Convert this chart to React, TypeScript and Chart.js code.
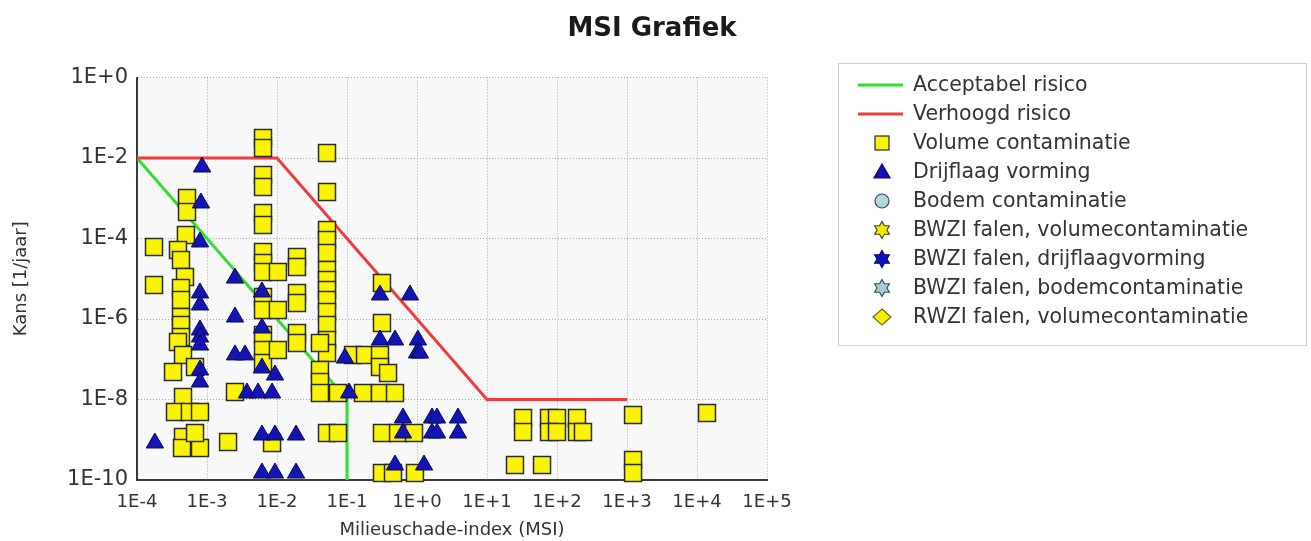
import React, { useEffect, useRef } from 'react';
import { Chart, registerables } from 'chart.js';

Chart.register(...registerables);

const TITLE = 'MSI Grafiek';
const X_TITLE = 'Milieuschade-index (MSI)';
const Y_TITLE = 'Kans [1/jaar]';

const X_TICKS = [1e-4, 1e-3, 1e-2, 1e-1, 1e0, 1e1, 1e2, 1e3, 1e4, 1e5];
const Y_TICKS = [1e-10, 1e-8, 1e-6, 1e-4, 1e-2, 1e0];

// Acceptabel risico (green)
const acceptabelMsi = [1e-4, 1e-1, 1e-1];
const acceptabelKans = [1e-2, 1e-8, 1e-10];

// Verhoogd risico (red)
const verhoogdMsi = [1e-4, 1e-2, 1e1, 1e3];
const verhoogdKans = [1e-2, 1e-2, 1e-8, 1e-8];

// Volume contaminatie (yellow squares)
const volumeMsi = [
  1.75e-4, 1.75e-4, 5.18e-4, 5.18e-4, 5.0e-4, 3.85e-4, 4.25e-4, 4.85e-4, 4.25e-4, 4.25e-4,
  4.25e-4, 4.25e-4, 4.25e-4, 3.85e-4, 4.54e-4, 3.27e-4, 6.74e-4, 4.54e-4, 3.49e-4, 5.7e-4,
  7.94e-4, 4.54e-4, 4.4e-4, 7.94e-4, 6.74e-4, 2.0e-3, 2.51e-3,
  6.31e-3, 6.31e-3, 6.31e-3, 6.31e-3, 6.31e-3, 6.31e-3, 6.31e-3, 6.31e-3, 6.31e-3, 6.31e-3,
  6.31e-3, 6.31e-3, 6.31e-3, 6.31e-3, 1.03e-2, 1.03e-2, 1.03e-2, 8.5e-3,
  1.93e-2, 1.93e-2, 1.93e-2, 1.93e-2, 1.93e-2, 1.93e-2,
  5.18e-2, 5.18e-2, 5.18e-2, 5.18e-2, 5.18e-2, 5.18e-2, 5.18e-2, 5.18e-2, 5.18e-2, 5.18e-2,
  5.18e-2, 5.18e-2, 5.18e-2, 4.11e-2, 4.11e-2, 4.11e-2, 4.11e-2, 7.43e-2, 5.18e-2, 7.43e-2,
  0.122, 0.181, 0.296, 0.296, 0.386, 0.169, 0.296, 0.485, 0.316, 0.316,
  0.316, 0.536, 0.906, 0.316, 0.454, 0.935,
  32.7, 32.7, 76.9, 100, 76.9, 100, 193, 193, 235, 25.1, 61.1,
  1.22e3, 1.22e3, 1.22e3, 1.39e4,
];
const volumeKans = [
  6.15e-5, 7.0e-6, 1.01e-3, 4.55e-4, 1.22e-4, 5.18e-5, 2.92e-5, 1.1e-5, 5.89e-6, 2.97e-6,
  1.12e-6, 7.1e-7, 3.57e-7, 2.68e-7, 1.28e-7, 4.82e-8, 6.42e-8, 1.15e-8, 4.89e-9, 4.89e-9,
  4.89e-9, 1.17e-9, 6.24e-10, 6.24e-10, 1.47e-9, 8.8e-10, 1.53e-8,
  3.14e-2, 1.77e-2, 3.78e-3, 1.9e-3, 4.3e-4, 2.17e-4, 4.62e-5, 2.46e-5, 1.47e-5, 3.52e-6,
  1.67e-6, 4.0e-7, 1.7e-7, 8.07e-8, 1.47e-5, 1.67e-6, 1.7e-7, 8.3e-10,
  3.47e-5, 1.96e-5, 4.43e-6, 2.5e-6, 4.49e-7, 2.53e-7,
  1.33e-2, 1.43e-3, 1.63e-4, 9.18e-5, 4.36e-5, 1.65e-5, 9.31e-6, 5.25e-6, 2.97e-6, 1.49e-6,
  7.1e-7, 3.01e-7, 1.43e-7, 2.53e-7, 5.41e-8, 2.72e-8, 1.45e-8, 1.45e-8, 1.47e-9, 1.47e-9,
  1.28e-7, 1.28e-7, 1.28e-7, 6.42e-8, 4.55e-8, 1.45e-8, 1.45e-8, 1.45e-8, 7.84e-6, 7.96e-7,
  1.47e-9, 1.47e-9, 1.47e-9, 1.49e-10, 1.49e-10, 1.49e-10,
  3.47e-9, 1.56e-9, 3.47e-9, 3.47e-9, 1.56e-9, 1.56e-9, 3.47e-9, 1.56e-9, 1.56e-9, 2.36e-10, 2.36e-10,
  4.12e-9, 3.14e-10, 1.49e-10, 4.62e-9,
];

// Drijflaag vorming (blue triangles)
const drijflaagMsi = [
  8.5e-4, 8.2e-4, 7.94e-4, 7.94e-4, 7.94e-4, 7.94e-4, 2.51e-3, 2.51e-3, 7.94e-4, 7.94e-4,
  7.94e-4, 7.94e-4, 2.51e-3, 3.49e-3, 1.8e-4, 6.1e-3, 6.1e-3, 6.1e-3, 9.35e-3, 3.72e-3,
  5.36e-3, 8.5e-3, 6.1e-3, 9.35e-3, 1.87e-2, 6.1e-3, 9.35e-3, 1.87e-2, 0.107, 9.35e-2,
  0.296, 0.794, 0.296, 0.485, 1.03, 1.0, 1.1, 0.631, 1.64, 1.93,
  3.85, 0.631, 1.64, 1.93, 3.85, 0.485, 1.26,
];
const drijflaagKans = [
  5.97e-3, 7.62e-4, 8.19e-5, 4.43e-6, 2.23e-6, 5.33e-7, 1.04e-5, 1.12e-6, 3.57e-7, 2.26e-7,
  5.41e-8, 2.72e-8, 1.28e-7, 1.28e-7, 8.3e-10, 4.69e-6, 5.97e-7, 6.06e-8, 4.06e-8, 1.45e-8,
  1.45e-8, 1.45e-8, 1.31e-9, 1.31e-9, 1.31e-9, 1.49e-10, 1.49e-10, 1.49e-10, 1.45e-8, 1.07e-7,
  3.95e-6, 3.95e-6, 3.01e-7, 3.01e-7, 3.01e-7, 1.43e-7, 1.43e-7, 3.47e-9, 3.47e-9, 3.47e-9,
  3.47e-9, 1.47e-9, 1.47e-9, 1.47e-9, 1.47e-9, 2.36e-10, 2.36e-10,
];

const FONT = '"DejaVu Sans", "Liberation Sans", sans-serif';

const pts = (xs: number[], ys: number[]) => xs.map((x, i) => ({ x, y: ys[i] }));

const fmtExp = (v: number) => {
  const e = Math.round(Math.log10(v));
  return '1E' + (e >= 0 ? '+' : '-') + Math.abs(e);
};

function drawHexagram(ctx: CanvasRenderingContext2D, cx: number, cy: number, R: number) {
  const r = R / Math.sqrt(3);
  ctx.beginPath();
  for (let i = 0; i < 12; i++) {
    const a = -Math.PI / 2 + (i * Math.PI) / 6;
    const rad = i % 2 === 0 ? R : r;
    const px = cx + Math.cos(a) * rad;
    const py = cy + Math.sin(a) * rad;
    if (i === 0) ctx.moveTo(px, py);
    else ctx.lineTo(px, py);
  }
  ctx.closePath();
}

const bgPlugin = {
  id: 'plotBg',
  beforeDraw(chart: any) {
    const { ctx, chartArea } = chart;
    ctx.save();
    ctx.fillStyle = '#f8f8f8';
    ctx.fillRect(chartArea.left, chartArea.top, chartArea.right - chartArea.left, chartArea.bottom - chartArea.top);
    ctx.restore();
  },
};

const legendPlugin = {
  id: 'boxLegend',
  afterDraw(chart: any) {
    const ctx: CanvasRenderingContext2D = chart.ctx;
    ctx.save();
    ctx.font = `bold 26px ${FONT}`;
    ctx.fillStyle = '#1a1a1a';
    ctx.textAlign = 'center';
    ctx.textBaseline = 'middle';
    ctx.fillText(TITLE, 652, 29);

    ctx.strokeStyle = '#cfcfcf';
    ctx.lineWidth = 1;
    ctx.strokeRect(838.5, 63.5, 468, 282);

    ctx.font = `20.5px ${FONT}`;
    ctx.textAlign = 'left';
    const mx = 882;
    chart.data.datasets.forEach((ds: any, i: number) => {
      const y = 85 + i * 29;
      ctx.fillStyle = ds.backgroundColor;
      ctx.strokeStyle = ds.borderColor;
      ctx.lineWidth = 1.2;
      const m = ds.legendMarker;
      if (m === 'line') {
        ctx.lineWidth = 3;
        ctx.beginPath();
        ctx.moveTo(858, y);
        ctx.lineTo(903, y);
        ctx.stroke();
      } else if (m === 'rect') {
        ctx.fillRect(mx - 7, y - 7, 14, 14);
        ctx.strokeRect(mx - 7, y - 7, 14, 14);
      } else if (m === 'triangle') {
        ctx.beginPath();
        ctx.moveTo(mx, y - 8);
        ctx.lineTo(mx + 8, y + 6);
        ctx.lineTo(mx - 8, y + 6);
        ctx.closePath();
        ctx.fill();
        ctx.stroke();
      } else if (m === 'circle') {
        ctx.beginPath();
        ctx.arc(mx, y, 7, 0, Math.PI * 2);
        ctx.fill();
        ctx.stroke();
      } else if (m === 'hexagram') {
        drawHexagram(ctx, mx, y, 8.5);
        ctx.fill();
        ctx.stroke();
      } else if (m === 'diamond') {
        ctx.beginPath();
        ctx.moveTo(mx, y - 8);
        ctx.lineTo(mx + 9, y);
        ctx.lineTo(mx, y + 8);
        ctx.lineTo(mx - 9, y);
        ctx.closePath();
        ctx.fill();
        ctx.stroke();
      }
      ctx.fillStyle = '#333333';
      ctx.fillText(ds.label, 913, y + 1);
    });
    ctx.restore();
  },
};

export default function App() {
  const canvasRef = useRef<HTMLCanvasElement | null>(null);

  useEffect(() => {
    if (!canvasRef.current) return;
    const chart = new Chart(canvasRef.current, {
      type: 'scatter',
      data: {
        datasets: [
          {
            label: 'Acceptabel risico',
            data: pts(acceptabelMsi, acceptabelKans),
            showLine: true,
            borderColor: '#2fe02f',
            backgroundColor: '#2fe02f',
            borderWidth: 3,
            pointRadius: 0,
            order: 4,
            legendMarker: 'line',
          } as any,
          {
            label: 'Verhoogd risico',
            data: pts(verhoogdMsi, verhoogdKans),
            showLine: true,
            borderColor: '#f23c3c',
            backgroundColor: '#f23c3c',
            borderWidth: 3,
            pointRadius: 0,
            order: 3,
            legendMarker: 'line',
          } as any,
          {
            label: 'Volume contaminatie',
            data: pts(volumeMsi, volumeKans),
            pointStyle: 'rect',
            pointRadius: 12,
            backgroundColor: '#fbf400',
            borderColor: '#2a2a2a',
            borderWidth: 1.5,
            order: 2,
            clip: false,
            legendMarker: 'rect',
          } as any,
          {
            label: 'Drijflaag vorming',
            data: pts(drijflaagMsi, drijflaagKans),
            pointStyle: 'triangle',
            pointRadius: 10,
            backgroundColor: '#1414b4',
            borderColor: '#0a0a55',
            borderWidth: 1,
            order: 1,
            clip: false,
            legendMarker: 'triangle',
          } as any,
          {
            label: 'Bodem contaminatie',
            data: [],
            pointStyle: 'circle',
            backgroundColor: '#b4d8dc',
            borderColor: '#3a4a50',
            legendMarker: 'circle',
            order: 0,
          } as any,
          {
            label: 'BWZI falen, volumecontaminatie',
            data: [],
            pointStyle: 'star',
            backgroundColor: '#f0ea00',
            borderColor: '#4a4a20',
            legendMarker: 'hexagram',
            order: 0,
          } as any,
          {
            label: 'BWZI falen, drijflaagvorming',
            data: [],
            pointStyle: 'star',
            backgroundColor: '#1010c0',
            borderColor: '#0a0a60',
            legendMarker: 'hexagram',
            order: 0,
          } as any,
          {
            label: 'BWZI falen, bodemcontaminatie',
            data: [],
            pointStyle: 'star',
            backgroundColor: '#a8ccd4',
            borderColor: '#3a5058',
            legendMarker: 'hexagram',
            order: 0,
          } as any,
          {
            label: 'RWZI falen, volumecontaminatie',
            data: [],
            pointStyle: 'rectRot',
            backgroundColor: '#f6ee00',
            borderColor: '#6a6a20',
            legendMarker: 'diamond',
            order: 0,
          } as any,
        ],
      },
      options: {
        responsive: false,
        animation: false,
        events: [],
        layout: { padding: { top: 77.5, right: 544, left: 0, bottom: 0 } },
        plugins: {
          legend: { display: false },
          title: { display: false },
          tooltip: { enabled: false },
        },
        scales: {
          x: {
            type: 'logarithmic',
            min: 1e-4,
            max: 1e5,
            afterBuildTicks: (scale: any) => {
              scale.ticks = X_TICKS.map((v) => ({ value: v }));
            },
            afterFit: (scale: any) => {
              scale.height = 61;
            },
            ticks: {
              callback: (v: any) => fmtExp(Number(v)),
              font: { family: FONT, size: 18 },
              color: '#333333',
              padding: 12,
              maxRotation: 0,
              autoSkip: false,
            },
            grid: { color: '#a8a8a8', lineWidth: 1, drawTicks: false },
            border: { display: true, color: '#3a3a3a', width: 2, dash: [1, 2] },
            title: {
              display: true,
              text: X_TITLE,
              font: { family: FONT, size: 18 },
              color: '#333333',
              padding: { top: 0, bottom: 0 },
            },
          },
          y: {
            type: 'logarithmic',
            min: 1e-10,
            max: 1,
            afterBuildTicks: (scale: any) => {
              scale.ticks = Y_TICKS.map((v) => ({ value: v }));
            },
            afterFit: (scale: any) => {
              scale.width = 137;
            },
            ticks: {
              callback: (v: any) => fmtExp(Number(v)),
              font: { family: FONT, size: 21 },
              color: '#333333',
              padding: 9,
              autoSkip: false,
            },
            grid: { color: '#a8a8a8', lineWidth: 1, drawTicks: false },
            border: { display: true, color: '#3a3a3a', width: 2, dash: [1, 2] },
            title: {
              display: true,
              text: Y_TITLE,
              font: { family: FONT, size: 18 },
              color: '#333333',
              padding: { top: 11, bottom: 0 },
            },
          },
        },
      },
      plugins: [bgPlugin, legendPlugin],
    } as any);
    return () => chart.destroy();
  }, []);

  return (
    <div style={{ position: 'absolute', left: 0, top: 0, width: 1311, height: 541, background: '#ffffff' }}>
      <canvas ref={canvasRef} width={1311} height={541} style={{ display: 'block' }} />
    </div>
  );
}
